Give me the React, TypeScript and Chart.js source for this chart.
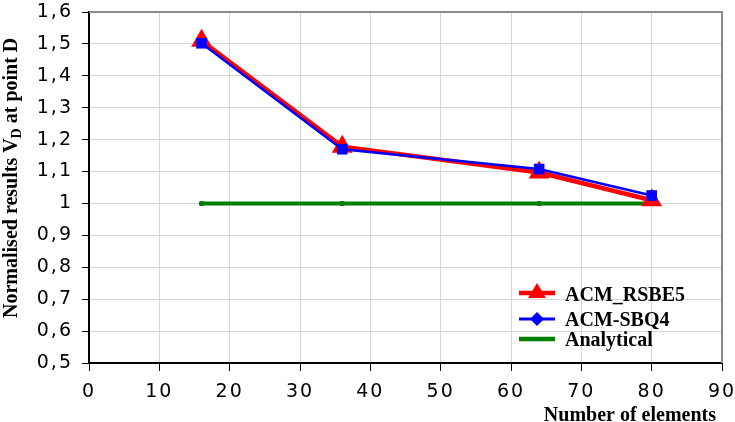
import { useEffect, useRef } from 'react';
import { Chart, registerables } from 'chart.js';

Chart.register(...registerables);

const seriesNames = ['ACM_RSBE5', 'ACM-SBQ4', 'Analytical'];
const elements = [16, 36, 64, 80];
const rsbe5Values = [1.51, 1.178, 1.097, 1.01];
const sbq4Values = [1.502, 1.17, 1.108, 1.025];
const analyticalValues = [1, 1, 1, 1];
const xTickRange = [0, 90, 10];
const yTickRange = [0.5, 1.6, 0.1];
const yTitleMain = 'Normalised results V';
const yTitleSub = 'D';
const yTitleEnd = ' at point D';
const xTitle = 'Number of elements';

const toPoints = (vals: number[]) => elements.map((x, i) => ({ x, y: vals[i] }));

const fmt = (v: number) => {
  const r = Math.round(v * 10) / 10;
  return String(r).replace('.', ',');
};

const SERIF = '"Liberation Serif", "Times New Roman", serif';

const decorPlugin = {
  id: 'decor',
  beforeDraw(chart: any) {
    chart.ctx.letterSpacing = '2px';
  },
  afterDraw(chart: any) {
    const ctx = chart.ctx as CanvasRenderingContext2D;
    const a = chart.chartArea;
    ctx.save();
    (ctx as any).letterSpacing = '0px';
    ctx.strokeStyle = '#8a8a8a';
    ctx.lineWidth = 2;
    ctx.beginPath();
    ctx.moveTo(a.left, a.top);
    ctx.lineTo(a.right, a.top);
    ctx.lineTo(a.right, a.bottom);
    ctx.stroke();

    const colors = ['#ff0000', '#0000ff', '#008000'];
    const ys = [293, 319, 339];
    const bases = [301, 326, 346];
    for (let i = 0; i < 3; i++) {
      ctx.strokeStyle = colors[i];
      ctx.fillStyle = colors[i];
      ctx.lineWidth = i === 1 ? 3 : 4.5;
      ctx.beginPath();
      ctx.moveTo(519, ys[i]);
      ctx.lineTo(555, ys[i]);
      ctx.stroke();
      const cx = 537;
      if (i === 0) {
        ctx.beginPath();
        ctx.moveTo(cx, ys[i] - 10);
        ctx.lineTo(cx + 9, ys[i] + 5);
        ctx.lineTo(cx - 9, ys[i] + 5);
        ctx.closePath();
        ctx.fill();
      } else if (i === 1) {
        ctx.beginPath();
        ctx.moveTo(cx, ys[i] - 7);
        ctx.lineTo(cx + 7, ys[i]);
        ctx.lineTo(cx, ys[i] + 7);
        ctx.lineTo(cx - 7, ys[i]);
        ctx.closePath();
        ctx.fill();
      }
      ctx.fillStyle = '#000';
      ctx.font = `bold 20px ${SERIF}`;
      ctx.textAlign = 'left';
      ctx.textBaseline = 'alphabetic';
      ctx.fillText(seriesNames[i], 565, bases[i]);
    }

    ctx.fillStyle = '#000';
    ctx.font = `bold 20px ${SERIF}`;
    ctx.textAlign = 'right';
    ctx.textBaseline = 'alphabetic';
    ctx.fillText(xTitle, 716, 421);

    ctx.save();
    ctx.translate(17, 318);
    ctx.rotate(-Math.PI / 2);
    ctx.textAlign = 'left';
    ctx.font = `bold 20px ${SERIF}`;
    let x = 0;
    ctx.fillText(yTitleMain, x, 0);
    x += ctx.measureText(yTitleMain).width;
    ctx.font = `bold 14px ${SERIF}`;
    ctx.fillText(yTitleSub, x, 4);
    x += ctx.measureText(yTitleSub).width;
    ctx.font = `bold 20px ${SERIF}`;
    ctx.fillText(yTitleEnd, x, 0);
    ctx.restore();

    ctx.restore();
  },
};

export default function App() {
  const ref = useRef<HTMLCanvasElement>(null);
  useEffect(() => {
    if (!ref.current) return;
    const tickFont = { family: '"DejaVu Sans", sans-serif', size: 19 };
    const chart = new Chart(ref.current, {
      type: 'line',
      data: {
        datasets: [
          {
            label: seriesNames[0],
            data: toPoints(rsbe5Values),
            borderColor: '#ff0000',
            backgroundColor: '#ff0000',
            borderWidth: 4.5,
            pointStyle: 'triangle',
            pointRadius: 12,
            pointBorderWidth: 0,
            tension: 0,
            order: 1,
          },
          {
            label: seriesNames[1],
            data: toPoints(sbq4Values),
            borderColor: '#0000ff',
            backgroundColor: '#0000ff',
            borderWidth: 2.5,
            pointStyle: 'rect',
            pointRadius: 7.5,
            pointBorderWidth: 0,
            tension: 0,
            order: 0,
          },
          {
            label: seriesNames[2],
            data: toPoints(analyticalValues),
            borderColor: '#008000',
            backgroundColor: '#008000',
            borderWidth: 4,
            pointStyle: 'rectRounded',
            pointRadius: 3,
            pointBorderWidth: 0,
            tension: 0,
            order: 2,
          },
        ],
      },
      options: {
        animation: false,
        responsive: false,
        layout: { padding: { top: 9, right: 13, left: 0, bottom: 0 } },
        plugins: { legend: { display: false }, tooltip: { enabled: false } },
        scales: {
          x: {
            type: 'linear',
            min: xTickRange[0],
            max: xTickRange[1],
            ticks: { stepSize: xTickRange[2], color: '#000', font: tickFont, padding: 10, maxRotation: 0 },
            grid: { color: '#d6d6d6', tickColor: '#000', tickLength: 8, lineWidth: 1 },
            border: { color: '#000', width: 2 },
            afterFit: (s: any) => {
              s.height = 59;
              s.paddingLeft = 0;
              s.paddingRight = 0;
            },
          },
          y: {
            type: 'linear',
            min: yTickRange[0],
            max: yTickRange[1],
            ticks: { stepSize: yTickRange[2], color: '#000', font: tickFont, padding: 9, callback: (v: any) => fmt(Number(v)) },
            grid: { color: '#d6d6d6', tickColor: '#000', tickLength: 7, lineWidth: 1 },
            border: { color: '#000', width: 2 },
            afterFit: (s: any) => {
              s.width = 89;
              s.paddingTop = 0;
              s.paddingBottom = 0;
            },
          },
        },
      } as any,
      plugins: [decorPlugin],
    });
    return () => chart.destroy();
  }, []);
  return (
    <div style={{ position: 'absolute', left: 0, top: 0, width: 735, height: 422 }}>
      <canvas ref={ref} width={735} height={422} />
    </div>
  );
}
